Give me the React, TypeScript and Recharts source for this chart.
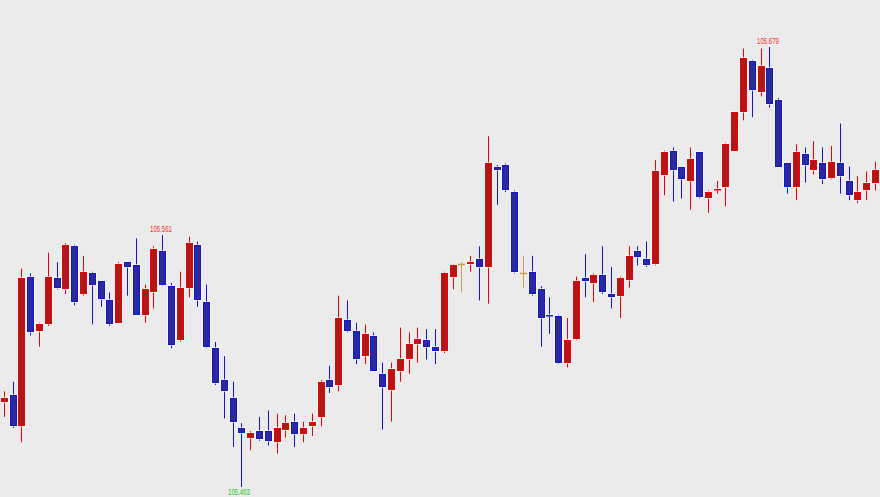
import { ComposedChart, Bar, XAxis, YAxis } from "recharts";

// OHLC per candle
const opens = [
  105.456, 105.461, 105.441, 105.535, 105.501, 105.505, 105.534, 105.527, 105.554, 105.524,
  105.537, 105.532, 105.520, 105.506, 105.544, 105.542, 105.511, 105.525, 105.551, 105.529,
  105.495, 105.528, 105.555, 105.519, 105.490, 105.470, 105.459, 105.440, 105.434, 105.438,
  105.438, 105.431, 105.439, 105.444, 105.436, 105.441, 105.447, 105.470, 105.467, 105.508,
  105.501, 105.485, 105.498, 105.474, 105.464, 105.476, 105.483, 105.493, 105.495, 105.491,
  105.488, 105.535, 105.543, 105.543, 105.546, 105.541, 105.604, 105.605, 105.588, 105.537,
  105.538, 105.527, 105.511, 105.510, 105.481, 105.496, 105.534, 105.531, 105.536, 105.524,
  105.523, 105.533, 105.551, 105.546, 105.543, 105.599, 105.614, 105.604, 105.595, 105.613,
  105.584, 105.589, 105.591, 105.614, 105.638, 105.670, 105.651, 105.666, 105.646, 105.606,
  105.591, 105.612, 105.602, 105.606, 105.597, 105.606, 105.595, 105.583, 105.589, 105.594,
];
const highs = [
  105.463, 105.469, 105.540, 105.537, 105.506, 105.550, 105.544, 105.556, 105.555, 105.548,
  105.538, 105.532, 105.525, 105.544, 105.544, 105.559, 105.530, 105.554, 105.561, 105.531,
  105.538, 105.560, 105.557, 105.530, 105.494, 105.485, 105.469, 105.443, 105.438, 105.447,
  105.451, 105.449, 105.448, 105.449, 105.444, 105.449, 105.470, 105.479, 105.523, 105.520,
  105.506, 105.505, 105.500, 105.481, 105.481, 105.503, 105.500, 105.503, 105.502, 105.502,
  105.538, 105.543, 105.544, 105.548, 105.554, 105.623, 105.605, 105.606, 105.589, 105.548,
  105.548, 105.529, 105.522, 105.511, 105.509, 105.535, 105.549, 105.537, 105.554, 105.541,
  105.535, 105.554, 105.554, 105.557, 105.608, 105.614, 105.616, 105.604, 105.616, 105.613,
  105.589, 105.595, 105.619, 105.638, 105.678, 105.671, 105.678, 105.679, 105.647, 105.606,
  105.618, 105.616, 105.620, 105.616, 105.617, 105.631, 105.604, 105.598, 105.601, 105.607,
];
const lows = [
  105.447, 105.440, 105.431, 105.498, 105.491, 105.504, 105.527, 105.524, 105.517, 105.523,
  105.505, 105.516, 105.504, 105.506, 105.523, 105.511, 105.506, 105.515, 105.529, 105.490,
  105.494, 105.522, 105.516, 105.490, 105.467, 105.446, 105.428, 105.403, 105.426, 105.432,
  105.429, 105.424, 105.434, 105.428, 105.431, 105.435, 105.441, 105.462, 105.463, 105.500,
  105.480, 105.480, 105.476, 105.439, 105.444, 105.469, 105.474, 105.481, 105.483, 105.480,
  105.487, 105.527, 105.525, 105.538, 105.520, 105.518, 105.580, 105.588, 105.537, 105.528,
  105.523, 105.491, 105.499, 105.480, 105.478, 105.495, 105.522, 105.519, 105.524, 105.515,
  105.509, 105.528, 105.542, 105.541, 105.542, 105.586, 105.582, 105.584, 105.577, 105.584,
  105.575, 105.587, 105.579, 105.614, 105.633, 105.635, 105.648, 105.641, 105.604, 105.587,
  105.583, 105.594, 105.599, 105.593, 105.596, 105.587, 105.583, 105.581, 105.583, 105.589,
];
const closes = [
  105.459, 105.441, 105.534, 105.500, 105.505, 105.535, 105.528, 105.555, 105.519, 105.538,
  105.530, 105.521, 105.505, 105.543, 105.541, 105.511, 105.527, 105.552, 105.530, 105.492,
  105.528, 105.556, 105.520, 105.491, 105.468, 105.463, 105.444, 105.437, 105.437, 105.433,
  105.432, 105.440, 105.443, 105.436, 105.440, 105.444, 105.469, 105.466, 105.509, 105.501,
  105.483, 105.499, 105.476, 105.466, 105.477, 105.483, 105.493, 105.496, 105.491, 105.488,
  105.537, 105.542, 105.543, 105.544, 105.541, 105.606, 105.602, 105.589, 105.538, 105.537,
  105.524, 105.509, 105.510, 105.481, 105.495, 105.532, 105.532, 105.536, 105.525, 105.522,
  105.534, 105.548, 105.547, 105.542, 105.601, 105.613, 105.602, 105.596, 105.609, 105.585,
  105.588, 105.590, 105.618, 105.638, 105.672, 105.652, 105.667, 105.643, 105.604, 105.591,
  105.613, 105.605, 105.608, 105.596, 105.607, 105.598, 105.586, 105.588, 105.594, 105.602,
];

// candles that carry a price tag
const highTags = [18, 87];
const lowTags = [27];

const data = opens.map((o, i) => ({
  i,
  open: o,
  high: highs[i],
  low: lows[i],
  close: closes[i],
}));

const UP_FILL = "#b01818";
const UP_LINE = "#f00000";
const DOWN_FILL = "#2a2a9c";
const DOWN_LINE = "#1414d2";
const DOJI = "#c8a050";
const TAG_FONT = "'Liberation Sans Narrow', 'Liberation Sans', sans-serif";

function Candle(props: any) {
  const { x, y, width, height, payload, index } = props;
  const { open, close, high, low } = payload;
  const top = Math.min(y, y + height);
  const h = Math.abs(height);
  const k = h / (high - low);
  const yOf = (v: number) => top + (high - v) * k;
  const c = Math.floor(x + width / 2);
  const wx = c + 0.5;
  const up = close > open;
  const doji = close === open;
  const line = doji ? DOJI : up ? UP_LINE : DOWN_LINE;
  const fill = up ? UP_FILL : DOWN_FILL;
  const bTop = Math.round(yOf(Math.max(open, close)));
  const bBot = Math.round(yOf(Math.min(open, close)));
  const L = c - 3;

  return (
    <g>
      <line x1={wx} x2={wx} y1={yOf(high)} y2={yOf(low)} stroke={line} strokeWidth={1} />
      {doji ? (
        <line x1={L} x2={L + 7} y1={bTop + 0.5} y2={bTop + 0.5} stroke={DOJI} strokeWidth={1.5} />
      ) : (
        <>
          <rect x={L - 0.5} y={bTop - 0.5} width={8} height={Math.max(bBot - bTop, 1) + 1} fill="none" stroke="#ffffff" strokeOpacity={0.6} strokeWidth={1} />
          <rect x={L + 0.5} y={bTop + 0.5} width={6} height={Math.max(bBot - bTop - 1, 0.5)} fill={fill} stroke={line} strokeWidth={1} />
        </>
      )}
      {highTags.includes(index) && (
        <text x={c - 1} y={yOf(high) - 3} textAnchor="middle" fontSize={9} fill="#ff3030"
          fontFamily={TAG_FONT} textLength={22} lengthAdjust="spacingAndGlyphs">
          {high.toFixed(3)}
        </text>
      )}
      {lowTags.includes(index) && (
        <text x={c - 2} y={yOf(low) + 8} textAnchor="middle" fontSize={9} fill="#22c822"
          fontFamily={TAG_FONT} textLength={22} lengthAdjust="spacingAndGlyphs">
          {low.toFixed(3)}
        </text>
      )}
    </g>
  );
}

export default function App() {
  return (
    <div style={{ position: "absolute", left: 0, top: 0, width: 880, height: 497, background: "#ebebeb" }}>
      <ComposedChart width={880} height={497} data={data} margin={{ top: 0, right: 0, bottom: 0, left: 0 }}>
        <XAxis dataKey="i" hide />
        <YAxis hide domain={[105.3967, 105.7085]} allowDataOverflow />
        <Bar dataKey={(d: any) => [d.low, d.high]} shape={<Candle />} isAnimationActive={false} />
      </ComposedChart>
    </div>
  );
}
